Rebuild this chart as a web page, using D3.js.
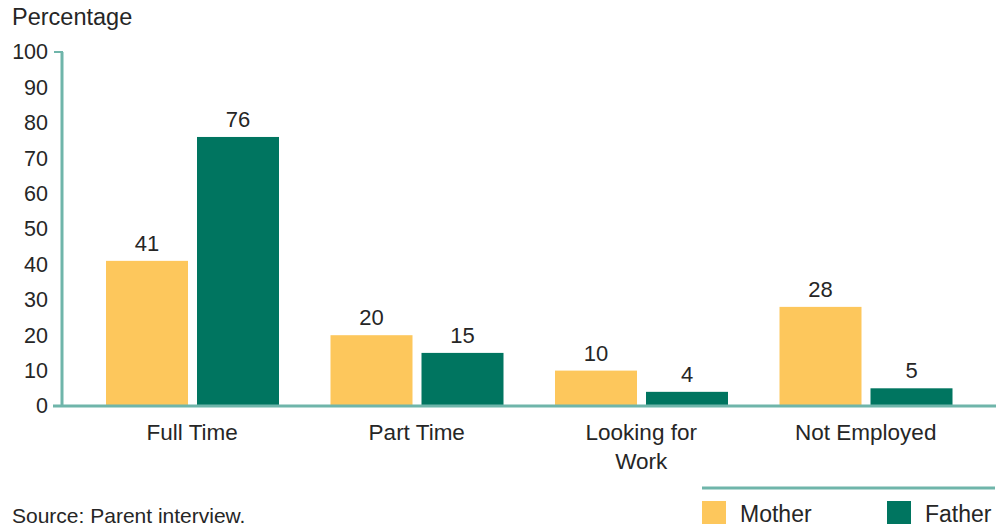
<!DOCTYPE html>
<html>
<head>
<meta charset="utf-8">
<script src="https://cdn.jsdelivr.net/npm/d3@7"></script>
<style>
  html, body { margin: 0; padding: 0; background: #fff; }
  svg text { font-family: "Liberation Sans", Arial, sans-serif; fill: #262626; }
</style>
</head>
<body>
<svg id="chart" width="1008" height="529"></svg>
<script>
// Employment status of parents, percentages
const categories = ["Full Time", "Part Time", "Looking for\nWork", "Not Employed"];
const seriesNames = ["Mother", "Father"];
const motherValues = [41, 20, 10, 28];
const fatherValues = [76, 15, 4, 5];
const yTicks = [0, 10, 20, 30, 40, 50, 60, 70, 80, 90, 100];
const colors = { Mother: "#fdc75c", Father: "#007560" };
const axisColor = "#6fb5aa";

const rows = categories.map((c, i) => ({ category: c, Mother: motherValues[i], Father: fatherValues[i] }));

const svg = d3.select("#chart");
const axisX = 62, baseY = 406, topY = 52;

const x = d3.scaleBand().domain(categories).range([80, 978]);
// two bars per group, 9px apart, centred in each band
const xs = d3.scaleBand().domain(seriesNames).range([26, 199]).paddingInner(9 / 91);
const y = d3.scaleLinear().domain([0, 100]).range([baseY, topY]);

// y axis
const yAxis = d3.axisLeft(y).tickValues(yTicks).tickSize(0).tickPadding(14);
const gy = svg.append("g").attr("transform", `translate(${axisX},0)`).call(yAxis);
gy.select(".domain").remove();
gy.attr("font-family", null).attr("font-size", null);
gy.selectAll("text").attr("font-size", 21.5).attr("fill", "#262626");

svg.append("line").attr("x1", axisX).attr("x2", axisX).attr("y1", y(100)).attr("y2", baseY)
  .attr("stroke", axisColor).attr("stroke-width", 3);
svg.append("line").attr("x1", axisX - 8).attr("x2", axisX + 1).attr("y1", y(100)).attr("y2", y(100))
  .attr("stroke", axisColor).attr("stroke-width", 2);

// bars
const groups = svg.append("g").selectAll("g").data(rows).join("g")
  .attr("transform", d => `translate(${x(d.category)},0)`);

groups.selectAll("rect").data(d => seriesNames.map(s => ({ s, v: d[s] }))).join("rect")
  .attr("x", d => xs(d.s)).attr("width", xs.bandwidth())
  .attr("y", d => y(d.v)).attr("height", d => baseY - y(d.v))
  .attr("fill", d => colors[d.s]);

groups.selectAll("text.val").data(d => seriesNames.map(s => ({ s, v: d[s] }))).join("text")
  .attr("class", "val")
  .attr("x", d => xs(d.s) + xs.bandwidth() / 2)
  .attr("y", d => y(d.v) - 10)
  .attr("text-anchor", "middle").attr("font-size", 22)
  .text(d => d.v);

// baseline
svg.append("line").attr("x1", 53).attr("x2", 996).attr("y1", baseY).attr("y2", baseY)
  .attr("stroke", axisColor).attr("stroke-width", 3);

// category labels
groups.append("text")
  .attr("x", x.bandwidth() / 2).attr("y", 440)
  .attr("text-anchor", "middle").attr("font-size", 22.5)
  .selectAll("tspan").data(d => d.category.split("\n")).join("tspan")
  .attr("x", x.bandwidth() / 2).attr("dy", (d, i) => i === 0 ? 0 : 29)
  .text(d => d);

// y title
svg.append("text").attr("x", 12).attr("y", 25).attr("font-size", 23.5).text("Percentage");

// source
svg.append("text").attr("x", 12).attr("y", 523).attr("font-size", 21).text("Source: Parent interview.");

// legend
svg.append("line").attr("x1", 702).attr("x2", 995).attr("y1", 488).attr("y2", 488)
  .attr("stroke", axisColor).attr("stroke-width", 3);
const legendX = [702, 887];
const lg = svg.append("g").selectAll("g").data(seriesNames).join("g")
  .attr("transform", (d, i) => `translate(${legendX[i]},501)`);
lg.append("rect").attr("width", 24).attr("height", 23).attr("fill", d => colors[d]);
lg.append("text").attr("x", 38).attr("y", 21).attr("font-size", 23).text(d => d);
</script>
</body>
</html>
